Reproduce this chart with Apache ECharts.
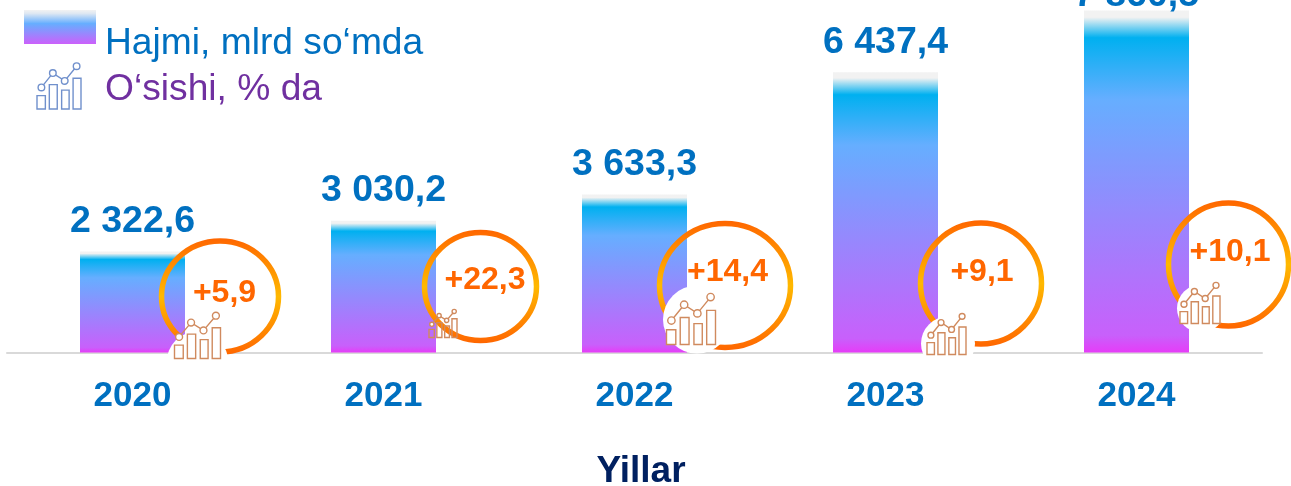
<!DOCTYPE html>
<html>
<head>
<meta charset="utf-8">
<style>
html, body { margin: 0; padding: 0; background: #fff; }
#chart { width: 1291px; height: 486px; }
</style>
<script src="https://cdn.jsdelivr.net/npm/echarts@6/dist/echarts.min.js"></script>
</head>
<body>
<div id="chart"></div>
<script>
const years = ['2020', '2021', '2022', '2023', '2024']
const volumes = [2322.6, 3030.2, 3633.3, 6437.4, 7860.5]
const growth = ['+5,9', '+22,3', '+14,4', '+9,1', '+10,1']

const blue = '#0070c0'
const font = '"Liberation Sans", Arial, sans-serif'

// ring + icon placement, px relative to the point where each bar centre meets the axis
const rings = [
  { cx: 87.5, cy: -56, rx: 58.5, ry: 55.5, tx: 92, ty: -59, ix: 42, iy: -40, iw: 46, ih: 46, wx: 65, wy: 10, wr: 31 },
  { cx: 97, cy: -66, rx: 56, ry: 54, tx: 101.5, ty: -72, ix: 45.5, iy: -43, iw: 28, ih: 28, wr: 0 },
  { cx: 90.5, cy: -67, rx: 65.5, ry: 62, tx: 93, ty: -80, ix: 32, iy: -59, iw: 49, ih: 51, wx: 62.5, wy: -33, wr: 34 },
  { cx: 95.5, cy: -69, rx: 60.5, ry: 60.5, tx: 96.5, ty: -80, ix: 41.5, iy: -39, iw: 39, ih: 41, wx: 62.5, wy: -9, wr: 27 },
  { cx: 92, cy: -88, rx: 60, ry: 61.5, tx: 93.5, ty: -100, ix: 43.5, iy: -70, iw: 40, ih: 41, wx: 64.5, wy: -44, wr: 24 }
]

function iconShapes(x, y, w, h, color, fill) {
  const barX = [[0, 0.19], [0.28, 0.46], [0.56, 0.73], [0.82, 1]]
  const barTop = [0.71, 0.47, 0.59, 0.33]
  const dots = [[0.1, 0.53], [0.36, 0.22], [0.63, 0.39], [0.9, 0.07]]
  const lw = 1.4
  let out = []
  barX.forEach(function (b, i) {
    out.push({
      type: 'rect',
      shape: { x: x + b[0] * w, y: y + barTop[i] * h, width: (b[1] - b[0]) * w, height: (1 - barTop[i]) * h },
      style: { fill: fill, stroke: color, lineWidth: lw }
    })
  })
  out.push({
    type: 'polyline',
    shape: { points: dots.map(function (d) { return [x + d[0] * w, y + d[1] * h] }) },
    style: { fill: 'none', stroke: color, lineWidth: lw }
  })
  dots.forEach(function (d) {
    out.push({
      type: 'circle',
      shape: { cx: x + d[0] * w, cy: y + d[1] * h, r: 0.075 * w },
      style: { fill: '#fff', stroke: color, lineWidth: lw }
    })
  })
  return out
}

function renderRing(params, api) {
  const i = params.dataIndex
  const r = rings[i]
  const p = api.coord([api.value(0), 0])
  let children = [{
    type: 'ellipse',
    shape: { cx: p[0] + r.cx, cy: p[1] + r.cy, rx: r.rx, ry: r.ry },
    style: {
      fill: 'none',
      lineWidth: 5.5,
      stroke: new echarts.graphic.LinearGradient(0, 0, 0, 1, [
        { offset: 0, color: '#ff6600' },
        { offset: 0.5, color: '#ffb900' },
        { offset: 1, color: '#ff6600' }
      ])
    }
  }]
  if (r.wr) {
    children.push({
      type: 'circle',
      shape: { cx: p[0] + r.wx, cy: p[1] + r.wy, r: r.wr },
      style: { fill: '#fff' }
    })
  }
  children = children.concat(iconShapes(p[0] + r.ix, p[1] + r.iy, r.iw, r.ih, '#d08a5e', r.wr ? '#fff' : 'none'))
  children.push({
    type: 'text',
    style: {
      x: p[0] + r.tx,
      y: p[1] + r.ty,
      text: growth[i],
      fill: '#ff6600',
      font: 'bold 32px ' + font,
      align: 'center',
      verticalAlign: 'middle'
    }
  })
  return { type: 'group', children: children }
}

const chart = echarts.init(document.getElementById('chart'), null, { renderer: 'canvas' })
chart.setOption({
  animation: false,
  grid: { left: 7, right: 29, top: 0, bottom: 133.5, outerBoundsMode: 'none' },
  xAxis: {
    type: 'category',
    data: years,
    name: 'Yillar',
    nameLocation: 'middle',
    nameGap: 101,
    nameMoveOverlap: false,
    nameTextStyle: { color: '#002060', fontSize: 37, fontWeight: 'bold', fontFamily: font, padding: [0, 0, 0, 13] },
    axisTick: { show: false },
    axisLine: { lineStyle: { color: '#d9d9d9', width: 2 } },
    axisLabel: { color: blue, fontSize: 35, fontWeight: 'bold', fontFamily: font, margin: 26 }
  },
  yAxis: { type: 'value', min: 0, max: 8100, show: false },
  series: [
    {
      type: 'bar',
      barWidth: 105,
      data: volumes.map(function (v, i) {
        // the last label sits lower, it runs off the top of the picture
        return i === 4 ? { value: v, label: { offset: [0, 15] } } : v
      }),
      itemStyle: {
        color: new echarts.graphic.LinearGradient(0, 0, 0, 1, [
          { offset: 0, color: '#f2f2f2' },
          { offset: 0.02, color: '#f2f2f2' },
          { offset: 0.08, color: '#00b0f0' },
          { offset: 0.26, color: '#66aeff' },
          { offset: 0.95, color: '#c860fb' },
          { offset: 1, color: '#e63cf8' }
        ])
      },
      label: {
        show: true,
        position: 'top',
        distance: 11,
        color: blue,
        fontSize: 37.5,
        fontWeight: 'bold',
        fontFamily: font,
        formatter: function (p) {
          const s = p.value.toFixed(1).replace('.', ',')
          return s.replace(/^(\d)(\d{3})/, '$1 $2')
        }
      }
    },
    {
      type: 'custom',
      renderItem: renderRing,
      data: years.map(function (y, i) { return [i] }),
      encode: { x: 0 },
      silent: true,
      z: 5,
      clip: false
    }
  ],
  graphic: [
    {
      type: 'rect',
      shape: { x: 24, y: 10, width: 72, height: 34 },
      style: {
        fill: new echarts.graphic.LinearGradient(0, 0, 0, 1, [
          { offset: 0, color: '#f2f2f2' },
          { offset: 0.1, color: '#dfe8f2' },
          { offset: 0.4, color: '#66aeff' },
          { offset: 1, color: '#cc60fb' }
        ])
      }
    },
    {
      type: 'text',
      style: { x: 105, y: 44, text: 'Hajmi, mlrd so‘mda', fill: blue, font: '37.2px ' + font, verticalAlign: 'middle' }
    },
    {
      type: 'text',
      style: { x: 105, y: 90, text: 'O‘sishi, % da', fill: '#7030a0', font: '37.2px ' + font, verticalAlign: 'middle' }
    },
    {
      type: 'group',
      children: iconShapes(37, 63, 44, 46, '#7090cc', 'none')
    }
  ]
})
</script>
</body>
</html>
